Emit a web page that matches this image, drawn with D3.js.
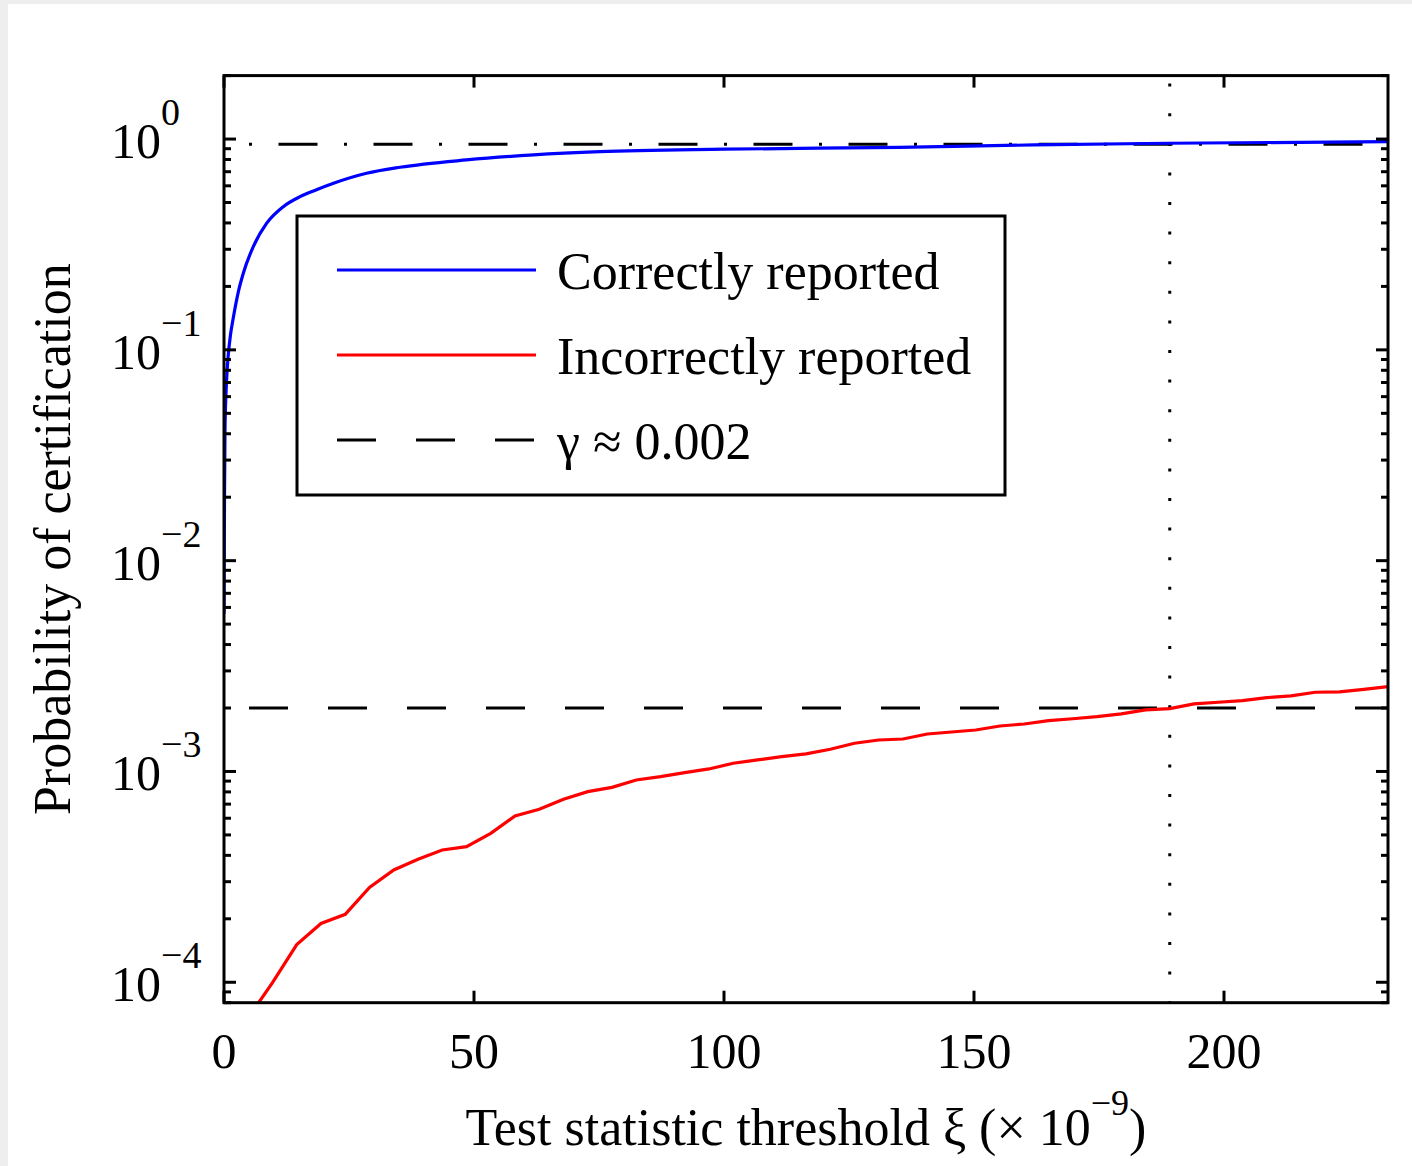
<!DOCTYPE html>
<html><head><meta charset="utf-8">
<script src="https://cdn.jsdelivr.net/npm/d3@7"></script>
<style>
html,body{margin:0;padding:0;background:#fff;}
svg{display:block;}
text{font-family:"Liberation Serif","Times New Roman",serif;fill:#000;}
</style></head>
<body>
<svg id="chart" width="1412" height="1166"></svg>
<script>
// ---- data ----
const xTicks = [0, 50, 100, 150, 200];
const yTickExps = [0, -1, -2, -3, -4];
const xDomain = [0, 232.8];
const yDomain = [8e-5, 2];

const correctX = [0, 0.1, 0.2, 0.4, 0.6, 0.86, 1.3, 1.86, 2.9, 3.86, 5.86, 8.54, 11.86, 15.2, 18.5, 21.9, 28.5, 35.2, 48.5, 61.9, 75.2, 100, 135, 162, 189, 232.8];
const correctY = [0.0056, 0.02, 0.042, 0.062, 0.078, 0.095, 0.118, 0.142, 0.19, 0.231, 0.309, 0.399, 0.478, 0.533, 0.575, 0.617, 0.688, 0.735, 0.796, 0.841, 0.871, 0.895, 0.914, 0.938, 0.955, 0.972];

const incorrectX = [4.85, 9.7, 14.55, 19.4, 24.25, 29.1, 33.95, 38.8, 43.65, 48.5, 53.35, 58.2, 63.05, 67.9, 72.75, 77.6, 82.45, 87.3, 92.15, 97.0, 101.85, 106.7, 111.55, 116.4, 121.25, 126.1, 130.95, 135.8, 140.65, 145.5, 150.35, 155.2, 160.05, 164.9, 169.75, 174.6, 179.45, 184.3, 189.15, 194.0, 198.85, 203.7, 208.55, 213.4, 218.25, 223.1, 227.95, 232.8];
const incorrectY = [6.8e-5, 9.95e-5, 1.51e-4, 1.9e-4, 2.1e-4, 2.82e-4, 3.41e-4, 3.83e-4, 4.24e-4, 4.40e-4, 5.09e-4, 6.15e-4, 6.62e-4, 7.38e-4, 8.02e-4, 8.41e-4, 9.11e-4, 9.45e-4, 9.87e-4, 1.028e-3, 1.094e-3, 1.134e-3, 1.176e-3, 1.211e-3, 1.274e-3, 1.361e-3, 1.41e-3, 1.426e-3, 1.506e-3, 1.539e-3, 1.573e-3, 1.643e-3, 1.68e-3, 1.741e-3, 1.779e-3, 1.819e-3, 1.875e-3, 1.958e-3, 1.987e-3, 2.091e-3, 2.13e-3, 2.168e-3, 2.24e-3, 2.282e-3, 2.376e-3, 2.384e-3, 2.453e-3, 2.524e-3];

const gammaLevel = 0.002;
const upperLevel = 0.945;
const crossingX = 189.15;

const legendLabels = ["Correctly reported", "Incorrectly reported", "\u03B3 \u2248 0.002"];
const xLabel = "Test statistic threshold \u03BE (\u00D7 10";
const xLabelExp = "\u22129";
const yLabel = "Probability of certification";

// ---- layout ----
const L = 224, R = 1388, T = 75.6, B = 1002.7;
const svg = d3.select("#chart");

svg.append("rect").attr("x",0).attr("y",0).attr("width",1412).attr("height",1166).attr("fill","#eeeeee");
svg.append("rect").attr("x",8).attr("y",4).attr("width",1404).attr("height",1162).attr("fill","#ffffff");

const x = d3.scaleLinear().domain(xDomain).range([L, R]);
const y = d3.scaleLog().domain(yDomain).range([B, T]);

svg.append("defs").append("clipPath").attr("id","clip")
  .append("rect").attr("x",L).attr("y",T).attr("width",R-L).attr("height",B-T);

const plot = svg.append("g").attr("clip-path","url(#clip)");

// reference lines
plot.append("line")
  .attr("x1", x(xDomain[0])).attr("x2", x(xDomain[1]))
  .attr("y1", y(upperLevel)).attr("y2", y(upperLevel))
  .attr("stroke","#000").attr("stroke-width",3)
  .attr("stroke-dasharray","3 26.5 39 26.5").attr("stroke-dashoffset",70);

plot.append("line")
  .attr("x1", x(xDomain[0])).attr("x2", x(xDomain[1]))
  .attr("y1", y(gammaLevel)).attr("y2", y(gammaLevel))
  .attr("stroke","#000").attr("stroke-width",3)
  .attr("stroke-dasharray","39 40").attr("stroke-dashoffset",54);

plot.append("line")
  .attr("x1", x(crossingX)).attr("x2", x(crossingX))
  .attr("y1", y(yDomain[0])).attr("y2", y(yDomain[1]))
  .attr("stroke","#000").attr("stroke-width",3)
  .attr("stroke-dasharray","3 26.6").attr("stroke-dashoffset",1.5);

// series
const correct = correctX.map((v,i)=>[v, correctY[i]]);
const incorrect = incorrectX.map((v,i)=>[v, incorrectY[i]]);

plot.append("path").datum(correct)
  .attr("d", d3.line().x(d=>x(d[0])).y(d=>y(d[1])).curve(d3.curveMonotoneX))
  .attr("fill","none").attr("stroke","#0000ff").attr("stroke-width",3.2);

plot.append("path").datum(incorrect)
  .attr("d", d3.line().x(d=>x(d[0])).y(d=>y(d[1])))
  .attr("fill","none").attr("stroke","#ff0000").attr("stroke-width",3.2);

// ticks
const majorLen = 12, minorLen = 7;
const tg = svg.append("g").attr("stroke","#000").attr("stroke-width",3);
xTicks.forEach(t=>{
  tg.append("line").attr("x1",x(t)).attr("x2",x(t)).attr("y1",B).attr("y2",B-majorLen);
  tg.append("line").attr("x1",x(t)).attr("x2",x(t)).attr("y1",T).attr("y2",T+majorLen);
});
const minorVals = [];
for (let e = -5; e <= 0; e++) for (let m = 2; m <= 9; m++) {
  const v = m * Math.pow(10, e);
  if (v >= yDomain[0] - 1e-12 && v <= yDomain[1] + 1e-12) minorVals.push(v);
}
yTickExps.forEach(e=>{
  const v = Math.pow(10,e);
  tg.append("line").attr("x1",L).attr("x2",L+majorLen).attr("y1",y(v)).attr("y2",y(v));
  tg.append("line").attr("x1",R).attr("x2",R-majorLen).attr("y1",y(v)).attr("y2",y(v));
});
minorVals.forEach(v=>{
  tg.append("line").attr("x1",L).attr("x2",L+minorLen).attr("y1",y(v)).attr("y2",y(v));
  tg.append("line").attr("x1",R).attr("x2",R-minorLen).attr("y1",y(v)).attr("y2",y(v));
});

// frame
svg.append("rect").attr("x",L).attr("y",T).attr("width",R-L).attr("height",B-T)
  .attr("fill","none").attr("stroke","#000").attr("stroke-width",3);

// tick labels
xTicks.forEach(t=>{
  svg.append("text").attr("x",x(t)).attr("y",1068).attr("text-anchor","middle")
    .attr("font-size",50).text(t);
});
yTickExps.forEach(e=>{
  const yy = y(Math.pow(10,e));
  svg.append("text").attr("x",161).attr("y",yy+19).attr("text-anchor","end")
    .attr("font-size",50).text("10");
  svg.append("text").attr("x",161).attr("y",yy-14).attr("text-anchor","start")
    .attr("font-size",38).text(e === 0 ? "0" : "\u2212" + Math.abs(e));
});

// axis labels
const xl = svg.append("text").attr("x",(L+R)/2).attr("y",1145).attr("text-anchor","middle").attr("font-size",52);
xl.append("tspan").text(xLabel);
xl.append("tspan").attr("font-size",36).attr("dy",-30).text(xLabelExp);
xl.append("tspan").attr("dy",30).text(")");

svg.append("text").attr("transform",`translate(70,${(T+B)/2}) rotate(-90)`)
  .attr("text-anchor","middle").attr("font-size",52).text(yLabel);

// legend
const lg = svg.append("g");
lg.append("rect").attr("x",297).attr("y",216).attr("width",708).attr("height",279)
  .attr("fill","#fff").attr("stroke","#000").attr("stroke-width",3);
const legendStyles = [
  {stroke:"#0000ff", dash:null},
  {stroke:"#ff0000", dash:null},
  {stroke:"#000", dash:"39 40"}
];
legendLabels.forEach((lab,i)=>{
  const ly = 270 + i*85;
  const ln = lg.append("line").attr("x1",337).attr("x2",536).attr("y1",ly).attr("y2",ly)
    .attr("stroke",legendStyles[i].stroke).attr("stroke-width",3);
  if (legendStyles[i].dash) ln.attr("stroke-dasharray",legendStyles[i].dash);
  lg.append("text").attr("x",557).attr("y",ly+19).attr("font-size",52).text(lab);
});
</script>
</body></html>
